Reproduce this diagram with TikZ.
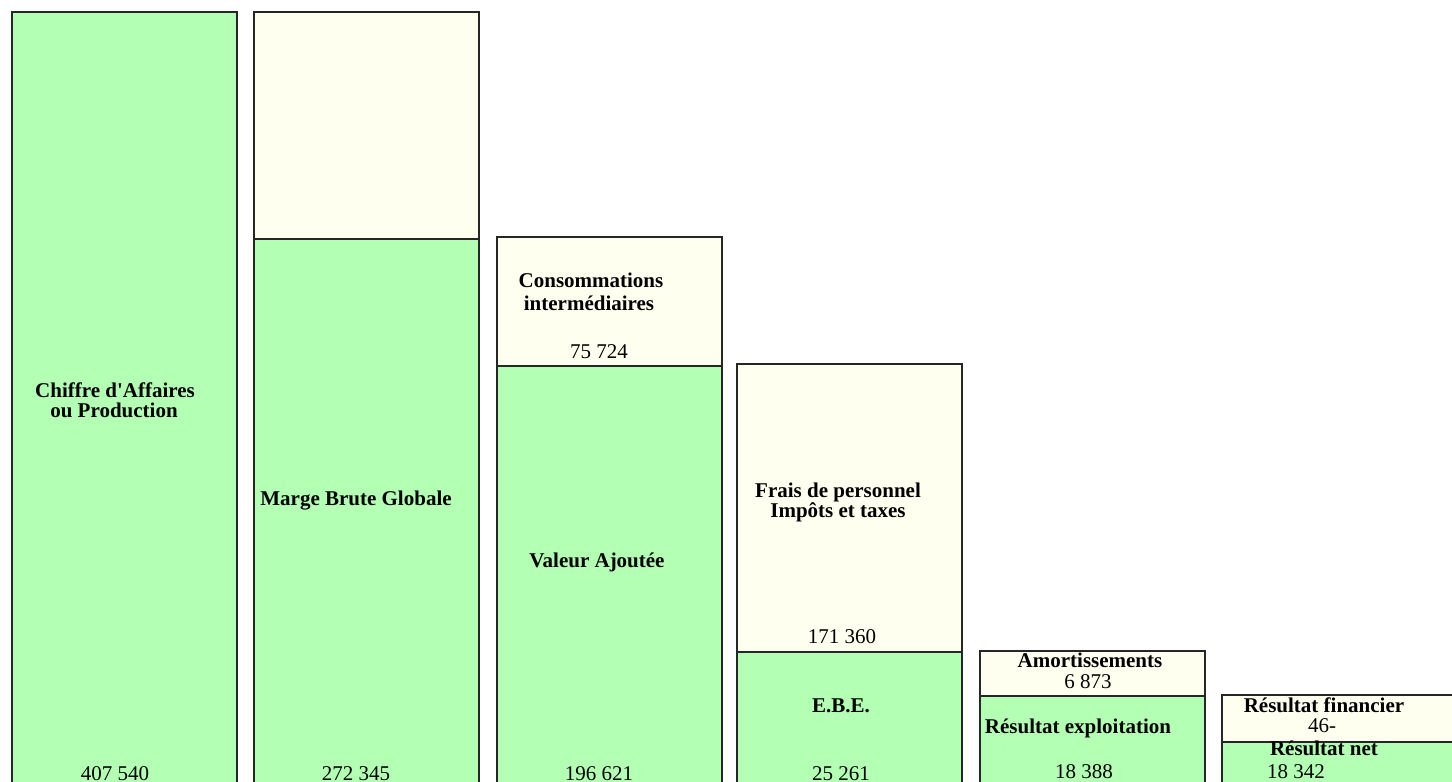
\documentclass[tikz,border=0pt]{standalone}
\usepackage{fontspec}
\setmainfont{Liberation Serif}
\usetikzlibrary{positioning}
\definecolor{vertsig}{RGB}{179,255,179}
\definecolor{cremesig}{RGB}{255,255,240}

\begin{document}
\begin{tikzpicture}[x=0.5pt,y=-0.5pt,
    solde/.style={draw=black!85, line width=0.7pt, fill=vertsig},
    charge/.style={draw=black!85, line width=0.7pt, fill=cremesig},
    titre/.style={font=\fontsize{10.5}{10}\selectfont\bfseries, anchor=base, inner sep=0pt},
    montant/.style={font=\fontsize{10.5}{10}\selectfont, anchor=base, inner sep=0pt},
]
\useasboundingbox (0,0) rectangle (1452,782);

% Barres
\begin{scope}
\clip (0,0) rectangle (1452,782);
\draw[solde] (12,12) rectangle (237,784);
\foreach \xg/\xd/\yh/\ys in {254/479/12/239, 497/722/237/366, 737/962/364/652,
                             980/1205/651/696, 1222/1455/695/742}
{
    \draw[charge] (\xg,\yh) rectangle (\xd,\ys);
    \draw[solde] (\xg,\ys) rectangle (\xd,784);
}
\end{scope}

% Chiffre d'affaires
\node[titre] (ca1) at (115,397) {Chiffre d\textquotesingle Affaires};
\node[titre] (ca2) at (114,417) {ou Production};
\node[montant] (vCA) at (115,780) {407 540};

% Marge brute
\node[titre] (mbg) at (356,505) {Marge Brute Globale};
\node[montant] (vMBG) at (356,780) {272 345};

% Valeur ajoutee
\node[titre] (ci1) at (591,287) {Consommations};
\node[titre] (ci2) at (589,310) {intermédiaires};
\node[montant] (vCI) at (599,358) {75 724};
\node[titre] (va) at (597,567) {Valeur Ajoutée};
\node[montant] (vVA) at (599,780) {196 621};

% EBE
\node[titre] (fp1) at (838,497) {Frais de personnel};
\node[titre] (fp2) at (838,517) {Impôts et taxes};
\node[montant] (vFP) at (842,643) {171 360};
\node[titre] (ebe) at (841,712) {E.B.E.};
\node[montant] (vEBE) at (841,780) {25 261};

% Resultat exploitation
\node[titre] (am) at (1090,667) {Amortissements};
\node[montant] (vAM) at (1088,688) {6 873};
\node[titre] (rex) at (1078,733) {Résultat exploitation};
\node[montant] (vREX) at (1084,778) {18 388};

% Resultat net
\node[titre] (rf) at (1324,712) {Résultat financier};
\node[montant] (vRF) at (1322,732) {46-};
\node[titre] (rn) at (1324,755) {Résultat net};
\node[montant] (vRN) at (1296,778) {18 342};

\end{tikzpicture}
\end{document}
